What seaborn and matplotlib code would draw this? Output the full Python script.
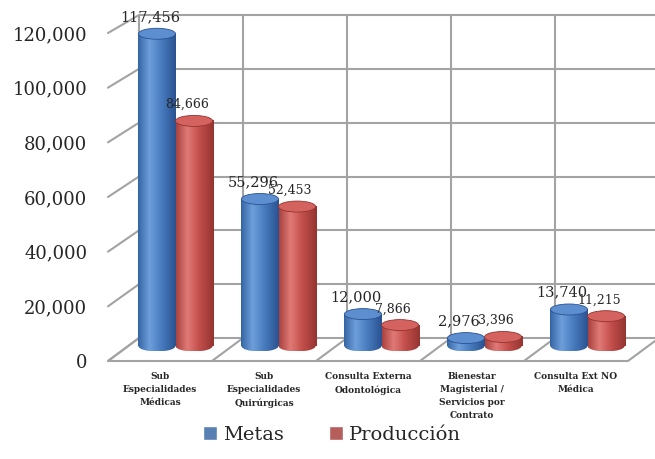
import matplotlib.pyplot as plt
import matplotlib.ticker as mticker
from matplotlib.patches import ConnectionPatch, Ellipse
from matplotlib.colors import LinearSegmentedColormap
import numpy as np
import pandas as pd
import seaborn as sns

categorias = ['Sub\nEspecialidades\nMédicas',
              'Sub\nEspecialidades\nQuirúrgicas',
              'Consulta Externa\nOdontológica',
              'Bienestar\nMagisterial /\nServicios por\nContrato',
              'Consulta Ext NO\nMédica']
metas = [117456, 55296, 12000, 2976, 13740]
produccion = [84666, 52453, 7866, 3396, 11215]
series = ['Metas', 'Producción']
y_ticks = [0, 20000, 40000, 60000, 80000, 100000, 120000]

colores = ['#4A7EC1', '#C5504D']
# dark edge, highlight, body, dark edge -> fake cylinder shading
sombras = [['#3464A3', '#6E9FDB', '#4A7EC1', '#2A5290'],
           ['#A9423E', '#E07A76', '#C5504D', '#943430']]
tapas = ['#5C8ED0', '#D4625E']
gris = '#a3a3a3'

sns.set_style('white')
plt.rcParams['font.family'] = ['DejaVu Serif']

W, H = 655, 459
fig = plt.figure(figsize=(W / 100, H / 100), dpi=100)


def px_axes(left, top, width, height):
    return fig.add_axes([left / W, 1 - (top + height) / H, width / W, height / H])


# three planes: back wall, bars (middle depth), front (labels)
ymin_mid = -6000
back = px_axes(139, 15, 520, 323)
mid = px_axes(124, 27, 515, 319 * (120000 - ymin_mid) / 120000)
front = px_axes(108, 33, 520, 328)

for ax in (back, mid, front):
    ax.set_xlim(-0.5, 4.5)
    ax.set_ylim(0, 120000)
    ax.patch.set_visible(False)
    sns.despine(ax=ax, left=True, bottom=True)
back.set_zorder(0)
mid.set_zorder(1)
front.set_zorder(2)

# back wall grid
back.set_xticks([])
back.set_yticks([])
back.hlines(y_ticks, -0.5, 4.5, color=gris, lw=1.5, clip_on=False)
back.vlines(np.arange(-0.5, 5, 1), 0, 120000, color=gris, lw=1.5, clip_on=False)

# left wall and floor
for v in y_ticks:
    cp = ConnectionPatch((-0.5, v), (-0.5, v), 'data', 'data', axesA=front, axesB=back,
                         color=gris, lw=1.5, zorder=0.5)
    fig.add_artist(cp)
for xb in np.arange(-0.5, 5, 1):
    cp = ConnectionPatch((xb, 0), (xb, 0), 'data', 'data', axesA=front, axesB=back,
                         color=gris, lw=1.5, zorder=0.5)
    fig.add_artist(cp)
front.hlines(0, -0.5, 4.5, color=gris, lw=1.5, clip_on=False)

# bars
df = pd.DataFrame({
    'categoria': categorias * 2,
    'valor': metas + produccion,
    'serie': [series[0]] * len(metas) + [series[1]] * len(produccion),
})
sns.barplot(data=df, x='categoria', y='valor', hue='serie', palette=colores,
            width=0.72, ax=mid, zorder=2)
mid.set_xlabel('')
mid.set_ylabel('')
mid.set_xticks([])
mid.set_yticks([])
handles, labels = mid.get_legend_handles_labels()
mid.legend_.remove()

ey = 120000 / 319 * 11
grad = np.linspace(0, 1, 128).reshape(1, -1)
for k, cont in enumerate(mid.containers):
    cmap = LinearSegmentedColormap.from_list('c%d' % k, list(zip([0, 0.3, 0.6, 1], sombras[k])))
    fs = 10.5 if k == 0 else 9
    for bar in cont:
        x0, w, h = bar.get_x(), bar.get_width(), bar.get_height()
        cx = x0 + w / 2
        bar.set_alpha(0)
        mid.imshow(grad, extent=(x0, x0 + w, 0, h), aspect='auto', cmap=cmap,
                   clip_path=bar, zorder=2)
        base = Ellipse((cx, 0), w, ey, fill=False, lw=0)
        mid.add_patch(base)
        mid.imshow(grad, extent=(x0, x0 + w, -ey / 2, ey / 2), aspect='auto', cmap=cmap,
                   clip_path=base, zorder=2)
        tapa = Ellipse((cx, h), w, ey, facecolor=tapas[k], edgecolor=sombras[k][3],
                       lw=0.6, zorder=3, clip_on=False)
        mid.add_patch(tapa)
        mid.annotate(f'{h:,.0f}', xy=(cx, h), xytext=(-5, 7), textcoords='offset points',
                     ha='center', va='bottom', fontsize=fs, zorder=4, annotation_clip=False)
mid.set_xlim(-0.5, 4.5)
mid.set_ylim(ymin_mid, 120000)

# front plane: axis labels
front.set_yticks(y_ticks)
front.yaxis.set_major_formatter(mticker.StrMethodFormatter('{x:,.0f}'))
front.set_xticks(range(len(categorias)))
front.set_xticklabels(categorias, fontsize=6.5, fontweight='bold', linespacing=1.55)
front.tick_params(axis='y', length=0, pad=15, labelsize=13)
front.tick_params(axis='x', length=0, pad=8)

fig.legend(handles, labels, loc='lower center', bbox_to_anchor=(0.507, -0.005), ncol=2,
           frameon=False, fontsize=14, handlelength=0.75, handleheight=0.75,
           handletextpad=0.3, columnspacing=2.3)

fig.savefig('out.png', dpi=100)
